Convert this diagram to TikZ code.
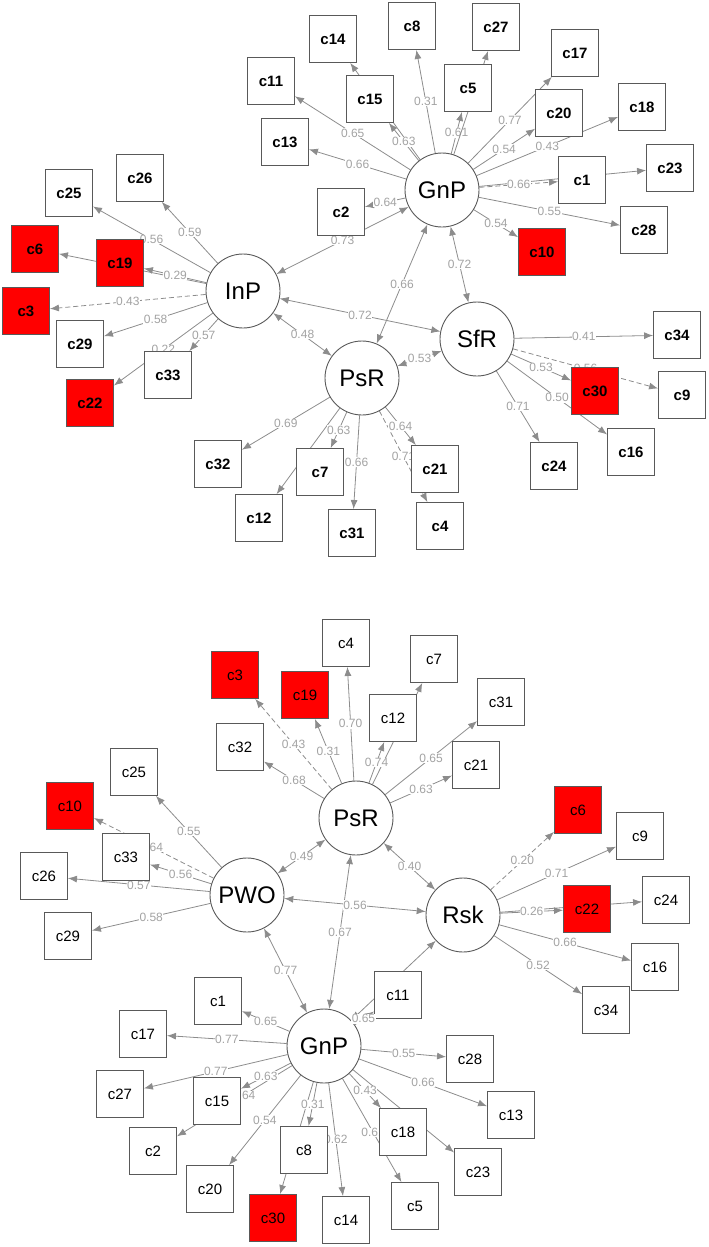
\documentclass[tikz,border=0pt]{standalone}
\usepackage{fontspec}
\setmainfont{Liberation Sans}
\usepackage{tikz}
\usetikzlibrary{arrows.meta,backgrounds}
\definecolor{edgegray}{HTML}{8C8C8C}
\definecolor{labgray}{HTML}{A3A3A3}
\definecolor{boxline}{HTML}{595959}
\definecolor{flag}{HTML}{FF0000}

\begin{document}
\begin{tikzpicture}[x=1pt,y=-1pt,every node/.style={font=\fontsize{15}{15}\selectfont},
  obs/.style={draw=boxline,fill=white,line width=0.9pt,minimum size=47pt,inner sep=0pt},
  uobs/.style={obs,font=\fontsize{15}{15}\selectfont\bfseries},
  uflag/.style={uobs,fill=flag},
  lflag/.style={obs,fill=flag},
  lat/.style={circle,draw=boxline,fill=white,line width=0.9pt,minimum size=74pt,inner sep=0pt,font=\fontsize{24}{24}\selectfont},
  ld/.style={-{Latex[length=9pt,width=7pt]},draw=edgegray,line width=0.8pt},
  cv/.style={{Latex[length=9pt,width=7pt]}-{Latex[length=9pt,width=7pt]},draw=edgegray,line width=0.8pt},
  dsh/.style={dash pattern=on 5pt off 3pt},
  lab/.style={fill=white,inner sep=0.5pt,text=labgray,font=\fontsize{12}{12}\selectfont}]
  \useasboundingbox (0,0) rectangle (709,1247);

  % Upper model: latents
  \node[lat] (uGnP) at (442,190) {GnP};
  \node[lat] (uInP) at (243,291) {InP};
  \node[lat] (uPsR) at (362,378) {PsR};
  \node[lat] (uSfR) at (477,339) {SfR};

  % Upper model: indicators of GnP
  \node[uobs] (uc8) at (412,26) {c8};
  \node[uobs] (uc27) at (496,27) {c27};
  \node[uobs] (uc14) at (333,39) {c14};
  \node[uobs] (uc11) at (271,81) {c11};
  \node[uobs] (uc15) at (370,99) {c15};
  \node[uobs] (uc5) at (468,88) {c5};
  \node[uobs] (uc17) at (575,53) {c17};
  \node[uobs] (uc20) at (559,113) {c20};
  \node[uobs] (uc18) at (642,107) {c18};
  \node[uobs] (uc13) at (285,142) {c13};
  \node[uobs] (uc23) at (670,168) {c23};
  \node[uobs] (uc1) at (582,180) {c1};
  \node[uobs] (uc2) at (341,212) {c2};
  \node[uobs] (uc28) at (644,230) {c28};
  \node[uflag] (uc10) at (542,252) {c10};

  % Upper model: indicators of InP
  \node[uobs] (uc26) at (140,178) {c26};
  \node[uobs] (uc25) at (69,193) {c25};
  \node[uflag] (uc6) at (35,249) {c6};
  \node[uflag] (uc19) at (120,263) {c19};
  \node[uflag] (uc3) at (26,311) {c3};
  \node[uobs] (uc29) at (80,344) {c29};
  \node[uobs] (uc33) at (168,375) {c33};
  \node[uflag] (uc22) at (90,403) {c22};

  % Upper model: indicators of PsR and SfR
  \node[uobs] (uc32) at (218,464) {c32};
  \node[uobs] (uc7) at (320,472) {c7};
  \node[uobs] (uc12) at (259,518) {c12};
  \node[uobs] (uc31) at (352,533) {c31};
  \node[uobs] (uc21) at (435,469) {c21};
  \node[uobs] (uc4) at (440,526) {c4};
  \node[uobs] (uc34) at (677,335) {c34};
  \node[uflag] (uc30) at (595,391) {c30};
  \node[uobs] (uc9) at (682,395) {c9};
  \node[uobs] (uc16) at (631,452) {c16};
  \node[uobs] (uc24) at (554,466) {c24};

  % Lower model: latents
  \node[lat] (lPsR) at (356,818) {PsR};
  \node[lat] (lPWO) at (247,895) {PWO};
  \node[lat] (lRsk) at (463,915) {Rsk};
  \node[lat] (lGnP) at (324,1046) {GnP};

  % Lower model: indicators of PsR
  \node[obs] (lc4) at (346,643) {c4};
  \node[lflag] (lc3) at (235,675) {c3};
  \node[lflag] (lc19) at (305,695) {c19};
  \node[obs] (lc32) at (240,747) {c32};
  \node[obs] (lc7) at (434,659) {c7};
  \node[obs] (lc12) at (393,718) {c12};
  \node[obs] (lc31) at (501,702) {c31};
  \node[obs] (lc21) at (476,765) {c21};

  % Lower model: indicators of PWO
  \node[obs] (lc25) at (134,772) {c25};
  \node[lflag] (lc10) at (70,806) {c10};
  \node[obs] (lc33) at (126,857) {c33};
  \node[obs] (lc26) at (44,876) {c26};
  \node[obs] (lc29) at (68,936) {c29};

  % Lower model: indicators of Rsk
  \node[lflag] (lc6) at (578,810) {c6};
  \node[obs] (lc9) at (640,836) {c9};
  \node[lflag] (lc22) at (587,909) {c22};
  \node[obs] (lc24) at (666,900) {c24};
  \node[obs] (lc16) at (655,967) {c16};
  \node[obs] (lc34) at (606,1010) {c34};

  % Lower model: indicators of GnP
  \node[obs] (lc11) at (398,995) {c11};
  \node[obs] (lc28) at (470,1059) {c28};
  \node[obs] (lc1) at (218,1001) {c1};
  \node[obs] (lc17) at (143,1034) {c17};
  \node[obs] (lc27) at (120,1094) {c27};
  \node[obs] (lc15) at (217,1101) {c15};
  \node[obs] (lc2) at (153,1151) {c2};
  \node[obs] (lc20) at (210,1189) {c20};
  \node[obs] (lc8) at (304,1150) {c8};
  \node[lflag] (lc30) at (273,1218) {c30};
  \node[obs] (lc14) at (346,1220) {c14};
  \node[obs] (lc18) at (403,1132) {c18};
  \node[obs] (lc5) at (415,1206) {c5};
  \node[obs] (lc23) at (478,1172) {c23};
  \node[obs] (lc13) at (511,1115) {c13};

  % short loading, kept in front so its label shows
  \draw[ld] (lGnP) -- node[lab,pos=.45]{0.65} (lc11);

  \begin{scope}[on background layer]
  % Upper model: loadings
  \draw[ld] (uGnP) -- node[lab]{0.31} (uc8);
  \draw[ld] (uGnP) -- (uc14);
  \draw[ld] (uGnP) -- node[lab]{0.63} (uc15);
  \draw[ld] (uGnP) -- node[lab]{0.65} (uc11);
  \draw[ld] (uGnP) -- node[lab]{0.66} (uc13);
  \draw[ld] (uGnP) -- node[lab]{0.64} (uc2);
  \draw[ld] (uGnP) -- node[lab]{0.61} (uc5);
  \draw[ld] (uGnP) -- (uc27);
  \draw[ld] (uGnP) -- node[lab]{0.77} (uc17);
  \draw[ld] (uGnP) -- node[lab]{0.54} (uc20);
  \draw[ld] (uGnP) -- node[lab]{0.43} (uc18);
  \draw[ld] (uGnP) -- (uc23);
  \draw[ld,dsh] (uGnP) -- node[lab]{0.66} (uc1);
  \draw[ld] (uGnP) -- node[lab]{0.55} (uc28);
  \draw[ld] (uGnP) -- node[lab]{0.54} (uc10);
  \draw[ld] (uInP) -- node[lab]{0.59} (uc26);
  \draw[ld] (uInP) -- node[lab]{0.56} (uc25);
  \draw[ld] (uInP) -- (uc6);
  \draw[ld] (uInP) -- node[lab]{0.29} (uc19);
  \draw[ld,dsh] (uInP) -- node[lab]{0.43} (uc3);
  \draw[ld] (uInP) -- node[lab]{0.58} (uc29);
  \draw[ld] (uInP) -- node[lab]{0.22} (uc22);
  \draw[ld] (uInP) -- node[lab]{0.57} (uc33);
  \draw[ld] (uPsR) -- node[lab]{0.69} (uc32);
  \draw[ld] (uPsR) -- (uc12);
  \draw[ld] (uPsR) -- node[lab]{0.63} (uc7);
  \draw[ld] (uPsR) -- node[lab]{0.66} (uc31);
  \draw[ld,dsh] (uPsR) -- node[lab]{0.71} (uc4);
  \draw[ld] (uPsR) -- node[lab]{0.64} (uc21);
  \draw[ld] (uSfR) -- node[lab]{0.41} (uc34);
  \draw[ld,dsh] (uSfR) -- node[lab]{0.56} (uc9);
  \draw[ld] (uSfR) -- node[lab]{0.53} (uc30);
  \draw[ld] (uSfR) -- node[lab]{0.50} (uc16);
  \draw[ld] (uSfR) -- node[lab]{0.71} (uc24);

  % Upper model: covariances
  \draw[cv] (uGnP) -- node[lab]{0.73} (uInP);
  \draw[cv] (uGnP) -- node[lab]{0.66} (uPsR);
  \draw[cv] (uGnP) -- node[lab]{0.72} (uSfR);
  \draw[cv] (uInP) -- node[lab]{0.72} (uSfR);
  \draw[cv] (uInP) -- node[lab]{0.48} (uPsR);
  \draw[cv] (uPsR) -- node[lab]{0.53} (uSfR);

  % Lower model: loadings
  \draw[ld,dsh] (lPsR) -- node[lab]{0.43} (lc3);
  \draw[ld] (lPsR) -- node[lab]{0.31} (lc19);
  \draw[ld] (lPsR) -- node[lab]{0.70} (lc4);
  \draw[ld] (lPsR) -- node[lab]{0.68} (lc32);
  \draw[ld] (lPsR) -- (lc7);
  \draw[ld] (lPsR) -- node[lab]{0.74} (lc12);
  \draw[ld] (lPsR) -- node[lab]{0.65} (lc31);
  \draw[ld] (lPsR) -- node[lab]{0.63} (lc21);
  \draw[ld] (lPWO) -- node[lab]{0.55} (lc25);
  \draw[ld,dsh] (lPWO) -- node[lab,pos=.52]{0.64} (lc10);
  \draw[ld] (lPWO) -- node[lab]{0.56} (lc33);
  \draw[ld] (lPWO) -- node[lab]{0.57} (lc26);
  \draw[ld] (lPWO) -- node[lab]{0.58} (lc29);
  \draw[ld,dsh] (lRsk) -- node[lab]{0.20} (lc6);
  \draw[ld] (lRsk) -- node[lab]{0.71} (lc9);
  \draw[ld] (lRsk) -- (lc24);
  \draw[ld] (lRsk) -- node[lab]{0.26} (lc22);
  \draw[ld] (lRsk) -- node[lab]{0.66} (lc16);
  \draw[ld] (lRsk) -- node[lab]{0.52} (lc34);
  \draw[ld] (lGnP) -- node[lab]{0.55} (lc28);
  \draw[ld] (lGnP) -- node[lab]{0.66} (lc13);
  \draw[ld] (lGnP) -- (lc23);
  \draw[ld] (lGnP) -- node[lab]{0.43} (lc18);
  \draw[ld] (lGnP) -- node[lab,pos=.52]{0.61} (lc5);
  \draw[ld] (lGnP) -- node[lab]{0.62} (lc14);
  \draw[ld] (lGnP) -- (lc30);
  \draw[ld] (lGnP) -- node[lab]{0.31} (lc8);
  \draw[ld] (lGnP) -- node[lab]{0.54} (lc20);
  \draw[ld] (lGnP) -- node[lab,pos=.42]{0.64} (lc2);
  \draw[ld] (lGnP) -- node[lab]{0.63} (lc15);
  \draw[ld] (lGnP) -- node[lab]{0.77} (lc27);
  \draw[ld] (lGnP) -- node[lab]{0.77} (lc17);
  \draw[ld] (lGnP) -- node[lab]{0.65} (lc1);

  % Lower model: covariances
  \draw[cv] (lPsR) -- node[lab]{0.49} (lPWO);
  \draw[cv] (lPsR) -- node[lab]{0.40} (lRsk);
  \draw[cv] (lPsR) -- node[lab]{0.67} (lGnP);
  \draw[cv] (lPWO) -- node[lab]{0.56} (lRsk);
  \draw[cv] (lPWO) -- node[lab]{0.77} (lGnP);
  \draw[cv] (lGnP) -- (lRsk);
  \end{scope}
\end{tikzpicture}
\end{document}
